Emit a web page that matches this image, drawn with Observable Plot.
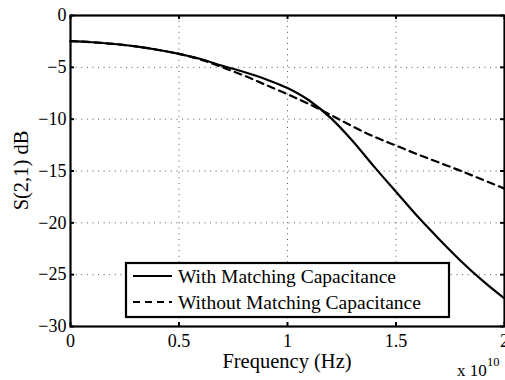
<!DOCTYPE html>
<html>
<head>
<meta charset="utf-8">
<script src="https://cdn.jsdelivr.net/npm/d3@7"></script>
<script src="https://cdn.jsdelivr.net/npm/@observablehq/plot@0.6"></script>
<style>
  html, body { margin: 0; padding: 0; background: white; }
  #chart { width: 505px; height: 380px; }
</style>
</head>
<body>
<div id="chart"></div>
<script>
// Frequency in units of 1e10 Hz
const freq = [0, 0.1, 0.2, 0.3, 0.4, 0.5, 0.6, 0.7, 0.8, 0.9, 1.0, 1.1, 1.2, 1.3, 1.4, 1.5, 1.6, 1.7, 1.8, 1.9, 2.0];
const withCap = [-2.48, -2.58, -2.75, -2.98, -3.3, -3.7, -4.2, -4.85, -5.45, -6.15, -7.0, -8.2, -9.9, -12.1, -14.6, -17.0, -19.4, -21.6, -23.7, -25.6, -27.3];
const withoutCap = [-2.48, -2.58, -2.75, -2.98, -3.3, -3.7, -4.25, -5.0, -5.8, -6.7, -7.6, -8.55, -9.6, -10.7, -11.7, -12.55, -13.4, -14.2, -15.0, -15.85, -16.7];
const seriesNames = ["With Matching Capacitance", "Without Matching Capacitance"];
const xTicks = [0, 0.5, 1, 1.5, 2];
const yTicks = [0, -5, -10, -15, -20, -25, -30];
const xLabel = "Frequency (Hz)";
const yLabel = "S(2,1) dB";
const expBase = "x 10";
const expPow = "10";

const W = 505, H = 380, mL = 70, mR = 1, mT = 15, mB = 54;
const pw = W - mL - mR, ph = H - mT - mB;
const font = "Liberation Serif";

const rows = [];
freq.forEach((f, i) => {
  rows.push({f, v: withCap[i], s: seriesNames[0]});
  rows.push({f, v: withoutCap[i], s: seriesNames[1]});
});

const fmtY = d => d < 0 ? "\u2212" + (-d) : String(d);

const plot = Plot.plot({
  width: W, height: H,
  marginLeft: mL, marginRight: mR, marginTop: mT, marginBottom: mB,
  style: {fontFamily: font, fontSize: "18px", background: "white", color: "black"},
  x: {domain: [0, 2], ticks: xTicks, tickFormat: d => String(d)},
  y: {domain: [-30, 0], ticks: yTicks, tickFormat: fmtY},
  marks: [
    Plot.gridX(xTicks.slice(1, -1), {stroke: "#555", strokeOpacity: 1, strokeWidth: 1, strokeDasharray: "1,4.6"}),
    Plot.gridY(yTicks.slice(1, -1), {stroke: "#555", strokeOpacity: 1, strokeWidth: 1, strokeDasharray: "1,4.6"}),
    Plot.axisX(xTicks, {tickSize: 0, tickPadding: 8, label: null, fontSize: 18, tickFormat: d => String(d)}),
    Plot.axisY(yTicks, {tickSize: 0, tickPadding: 4, label: null, fontSize: 18, tickFormat: fmtY}),
    Plot.tickX(xTicks, {x: d => d, insetTop: ph - 4, stroke: "black", strokeWidth: 2}),
    Plot.tickX(xTicks, {x: d => d, insetBottom: ph - 4, stroke: "black", strokeWidth: 2}),
    Plot.tickY(yTicks, {y: d => d, insetRight: pw - 4, stroke: "black", strokeWidth: 2}),
    Plot.tickY(yTicks, {y: d => d, insetLeft: pw - 4, stroke: "black", strokeWidth: 2}),
    Plot.line(rows.filter(r => r.s === seriesNames[0]), {x: "f", y: "v", stroke: "black", strokeWidth: 2.2, curve: "monotone-x"}),
    Plot.line(rows.filter(r => r.s === seriesNames[1]), {x: "f", y: "v", stroke: "black", strokeWidth: 2.2, strokeDasharray: "7,5", curve: "monotone-x"}),
    Plot.frame({stroke: "black", strokeWidth: 2.2})
  ]
});

const svg = d3.select(plot);

// Axis labels
svg.append("text")
  .attr("x", mL + pw / 2).attr("y", 368)
  .attr("text-anchor", "middle")
  .attr("font-size", 20.5)
  .attr("fill", "black")
  .text(xLabel);

svg.append("text")
  .attr("transform", `translate(28, ${mT + ph / 2}) rotate(-90)`)
  .attr("text-anchor", "middle")
  .attr("font-size", 20.5)
  .attr("fill", "black")
  .text(yLabel);

// Exponent
svg.append("text")
  .attr("x", 457).attr("y", 376)
  .attr("text-anchor", "start")
  .attr("font-size", 17)
  .attr("fill", "black")
  .text(expBase);
svg.append("text")
  .attr("x", 487).attr("y", 366)
  .attr("text-anchor", "start")
  .attr("font-size", 12.5)
  .attr("fill", "black")
  .text(expPow);

// Legend
const lg = svg.append("g").attr("text-anchor", "start");
lg.append("rect")
  .attr("x", 126).attr("y", 263).attr("width", 323).attr("height", 54)
  .attr("fill", "white").attr("stroke", "black").attr("stroke-width", 2.2);
const rowsY = [276, 302];
seriesNames.forEach((name, i) => {
  lg.append("line")
    .attr("x1", 133).attr("x2", 172).attr("y1", rowsY[i]).attr("y2", rowsY[i])
    .attr("stroke", "black").attr("stroke-width", 2.2)
    .attr("stroke-dasharray", i === 1 ? "7,5" : null);
  lg.append("text")
    .attr("x", 178).attr("y", rowsY[i] + 7)
    .attr("text-anchor", "start")
    .attr("font-size", 19.5)
    .attr("fill", "black")
    .text(name);
});

// Force serif font on every text element
svg.selectAll("text, tspan").attr("font-family", font).style("font-family", "'Liberation Serif', serif");

document.getElementById("chart").appendChild(plot);
</script>
</body>
</html>
